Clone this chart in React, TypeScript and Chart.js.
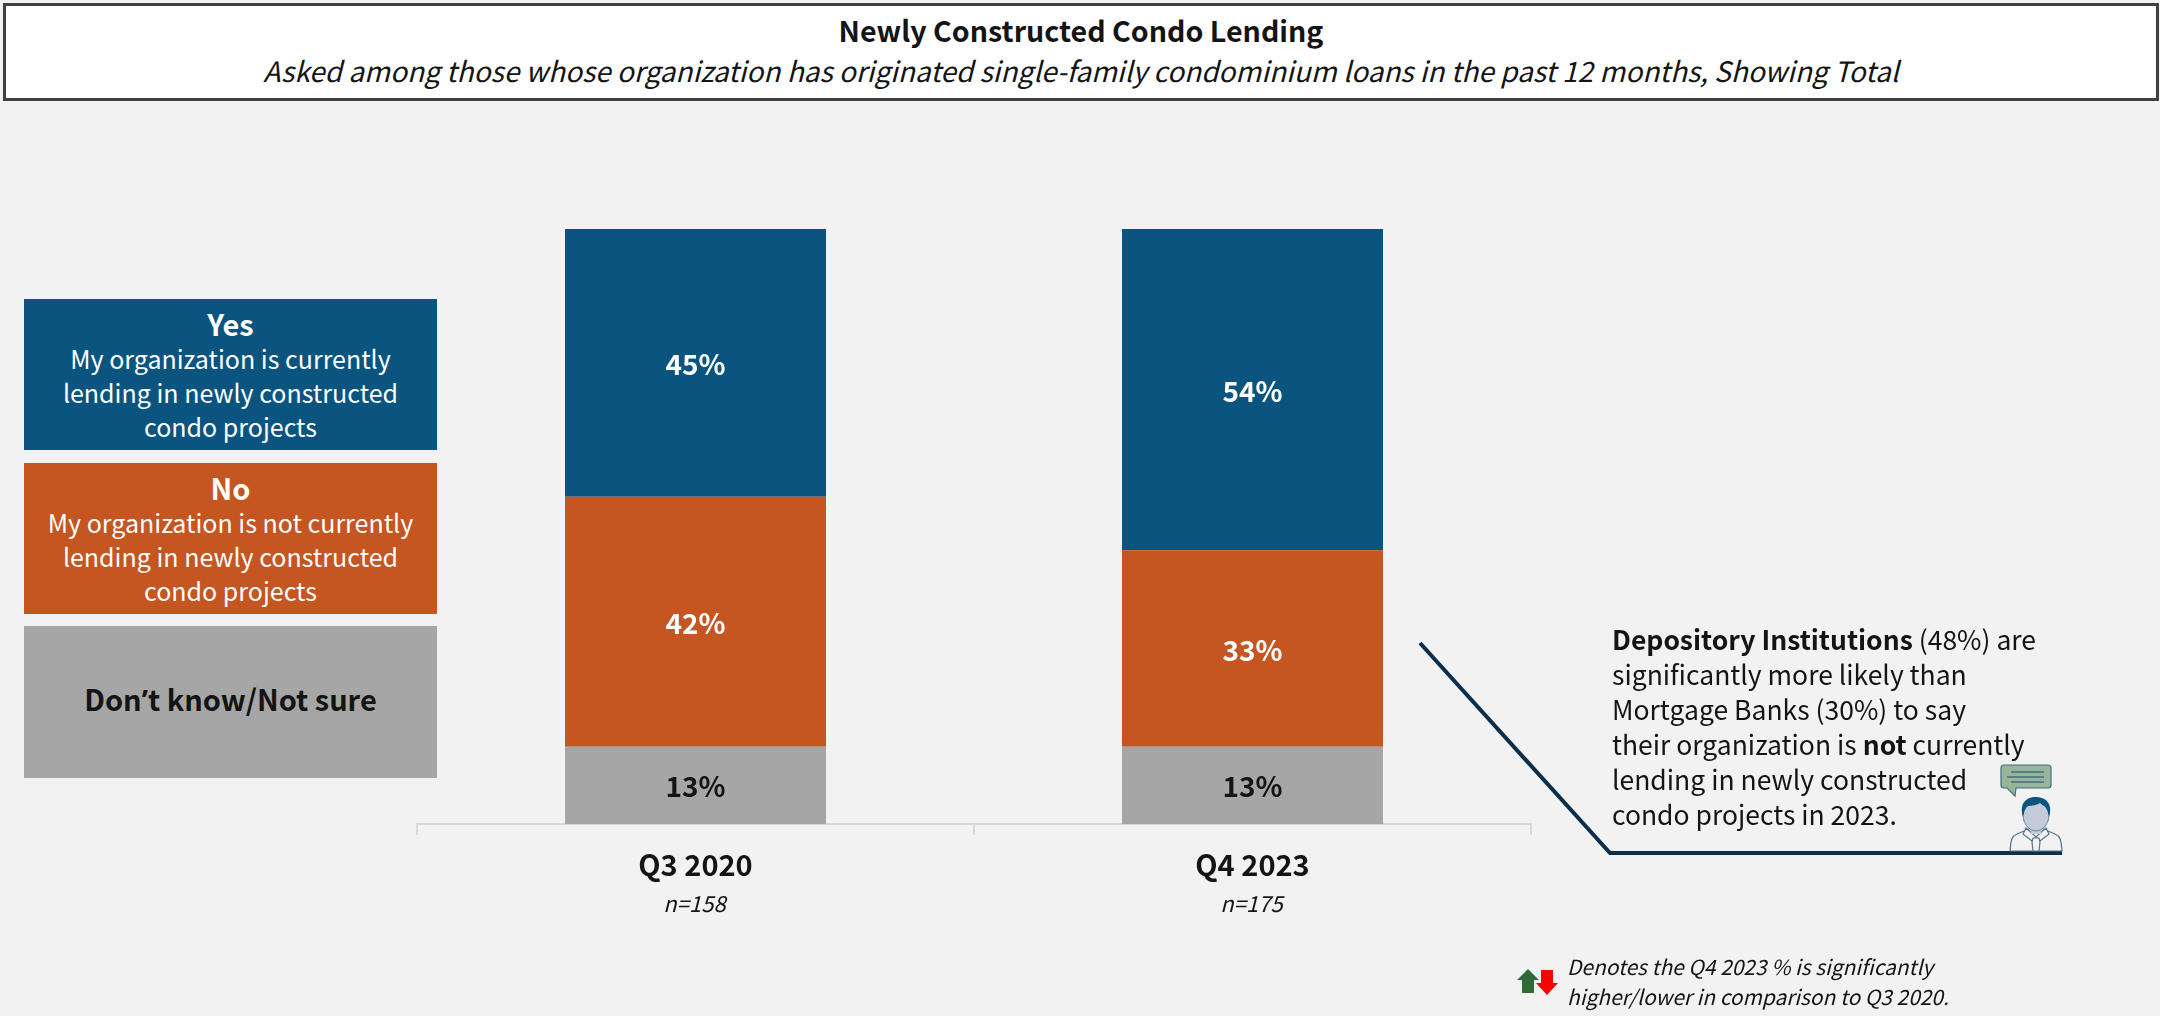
import React, { useEffect, useRef } from "react";
import { Chart, registerables } from "chart.js";

Chart.register(...registerables);

const FONT = '"Noto Sans CJK SC", "Noto Sans", sans-serif';
const periods = ["Q3 2020", "Q4 2023"];
const sampleSizes = ["n=158", "n=175"];
const yesValues = [45, 54];
const noValues = [42, 33];
const unsureValues = [13, 13];
const BLUE = "#0A5480";
const ORANGE = "#C55521";
const GREY = "#A6A6A6";
const BG = "#F2F2F2";
const INK = "#141414";

const labelPlugin = {
  id: "labels",
  afterDatasetsDraw(chart: any) {
    const { ctx } = chart;
    ctx.save();
    ctx.textAlign = "center";
    ctx.textBaseline = "middle";
    chart.data.datasets.forEach((ds: any, i: number) => {
      chart.getDatasetMeta(i).data.forEach((bar: any, j: number) => {
        ctx.font = `700 28px ${FONT}`;
        ctx.fillStyle = ds.labelColor;
        ctx.fillText(`${ds.data[j]}%`, bar.x, (bar.y + bar.base) / 2 + 1.5);
      });
    });
    const x = chart.scales.x;
    ctx.font = `italic 400 22px ${FONT}`;
    ctx.fillStyle = INK;
    sampleSizes.forEach((s, i) => ctx.fillText(s, x.getPixelForValue(i) - 1, 904));
    ctx.restore();
  },
};

const abs = (o: React.CSSProperties): React.CSSProperties => ({ position: "absolute", ...o });

function LegendBox({ top, height, color, title, lines, dark }: { top: number; height: number; color: string; title: React.ReactNode; lines: string[]; dark?: boolean }) {
  return (
    <div style={abs({ left: 24, top, width: 413, height, background: color, color: dark ? INK : "#fff", textAlign: "center", display: "flex", flexDirection: "column", justifyContent: "center", fontSize: 25, lineHeight: "34px" })}>
      <div style={{ fontWeight: 700, fontSize: 29, marginTop: dark ? -6 : -1, marginBottom: dark ? 0 : 1 }}>{title}</div>
      {lines.map((l) => <div key={l}>{l}</div>)}
    </div>
  );
}

export default function App() {
  const ref = useRef<HTMLCanvasElement>(null);
  useEffect(() => {
    document.body.style.margin = "0";
    const chart = new Chart(ref.current!, {
      type: "bar",
      data: {
        labels: periods,
        datasets: [
          { label: "Don't know/Not sure", data: unsureValues, backgroundColor: GREY, labelColor: INK } as any,
          { label: "No", data: noValues, backgroundColor: ORANGE, labelColor: "#fff" } as any,
          { label: "Yes", data: yesValues, backgroundColor: BLUE, labelColor: "#fff" } as any,
        ],
      },
      options: {
        animation: false,
        responsive: false,
        layout: { padding: { left: 417, right: 2160 - 1531, top: 229, bottom: 100 } },
        datasets: { bar: { barPercentage: 1, categoryPercentage: 261 / 557 } },
        plugins: { legend: { display: false }, tooltip: { enabled: false } },
        scales: {
          x: {
            stacked: true,
            afterFit: (s: any) => { s.height = 1016 - 824 - 100; },
            grid: { drawOnChartArea: false, offset: true, color: "#D9D9D9", lineWidth: 2, tickLength: 11 },
            border: { color: "#D9D9D9", width: 2 },
            ticks: { color: INK, font: { family: FONT, size: 29, weight: 700 }, padding: 13, maxRotation: 0 },
          },
          y: { stacked: true, display: false, min: 0, max: 100 },
        },
      },
      plugins: [labelPlugin],
    });
    return () => chart.destroy();
  }, []);

  return (
    <div style={{ position: "relative", width: 2160, height: 1016, background: BG, fontFamily: FONT, color: INK, overflow: "hidden" }}>
      <canvas ref={ref} width={2160} height={1016} style={abs({ left: 0, top: 0, width: 2160, height: 1016 })} />
      <div style={abs({ left: 3, top: 3, width: 2150, height: 92, background: "#fff", border: "3px solid #404040", textAlign: "center" })}>
        <div style={{ fontWeight: 700, fontSize: 28.6, lineHeight: "40px", marginTop: 4 }}>Newly Constructed Condo Lending</div>
        <div style={{ fontStyle: "italic", fontSize: 28, lineHeight: "40px" }}>Asked among those whose organization has originated single-family condominium loans in the past 12 months, Showing Total</div>
      </div>
      <LegendBox top={299} height={151} color={BLUE} title="Yes" lines={["My organization is currently", "lending in newly constructed", "condo projects"]} />
      <LegendBox top={463} height={151} color={ORANGE} title="No" lines={["My organization is not currently", "lending in newly constructed", "condo projects"]} />
      <LegendBox top={626} height={152} color={GREY} title={<>Don<span style={{ fontFamily: '"Noto Sans"' }}>’</span>t know/Not sure</>} lines={[]} dark />
      <svg width={2160} height={1016} style={abs({ left: 0, top: 0 })}>
        <polyline points="1420,643 1610,853 2062,853" fill="none" stroke="#0B2F4A" strokeWidth={4} />
        <path d="M2004 765h44a3 3 0 0 1 3 3v17a3 3 0 0 1-3 3h-32l-1 8-8-8h-3a3 3 0 0 1-3-3v-17a3 3 0 0 1 3-3z" fill="#98B49A" stroke="#3F6F80" strokeWidth={1.2} />
        <path d="M2011 772h33M2007 777h37M2011 782h33" stroke="#3F6F80" strokeWidth={1.3} />
        <path d="M2010 851c1-12 2-15 7-17l14-6h10l14 6c5 2 6 5 7 17z" fill={BG} stroke="#52748A" strokeWidth={1.2} />
        <path d="M2026 828l10 9 10-9 3 6-9 7-4-4-4 4-9-7z" fill={BG} stroke="#52748A" strokeWidth={1.2} />
        <path d="M2033 838h6l1 4-1 9h-6l-1-9z" fill={BG} stroke="#52748A" strokeWidth={1.2} />
        <rect x={2031} y={824} width={10} height={10} fill="#C3CBDA" />
        <ellipse cx={2036} cy={815} rx={13} ry={16} fill="#C3CBDA" stroke="#52748A" strokeWidth={0.8} />
        <path d="M2023 817c-4-12 2-20 13-20s17 8 13 20c-1-5-2-9-5-11-2-1-3-2-4-3-3 2-8 3-12 3-3 2-4 6-5 11z" fill={BLUE} />
        <path d="M1528 969l11 11h-5v13h-12v-13h-5z" fill="#2F6B36" />
        <path d="M1541 970h12v13h5l-11 12-11-12h5z" fill="#FF0000" />
      </svg>
      <div style={abs({ left: 1612, top: 621, fontSize: 26.5, lineHeight: "35px", whiteSpace: "nowrap" })}>
        <div><b>Depository Institutions</b> (48%) are</div>
        <div>significantly more likely than</div>
        <div>Mortgage Banks (30%) to say</div>
        <div>their organization is <b>not</b> currently</div>
        <div>lending in newly constructed</div>
        <div>condo projects in 2023.</div>
      </div>
      <div style={abs({ left: 1567, top: 951, fontSize: 20.9, lineHeight: "30px", fontStyle: "italic", whiteSpace: "nowrap" })}>
        <div>Denotes the Q4 2023 % is significantly</div>
        <div>higher/lower in comparison to Q3 2020.</div>
      </div>
    </div>
  );
}
